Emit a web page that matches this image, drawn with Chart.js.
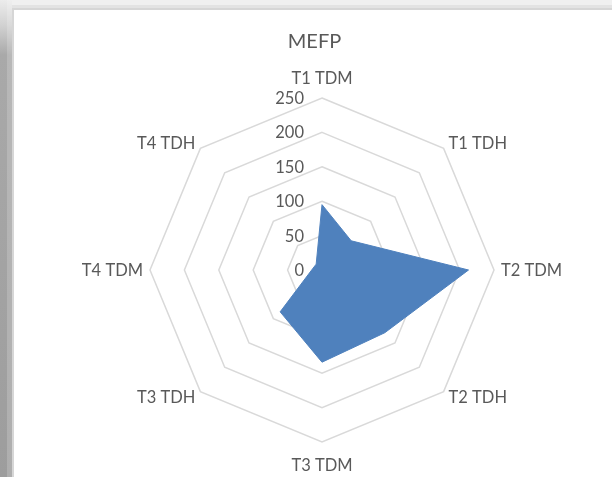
<!DOCTYPE html>
<html>
<head>
<meta charset="utf-8">
<script src="https://cdn.jsdelivr.net/npm/chart.js@4.4.1/dist/chart.umd.min.js"></script>
<style>
  body { margin: 0; width: 612px; height: 477px; background: #f0f0f0; position: relative; overflow: hidden; }
  #barraTopo { position: absolute; left: 0; top: 5px; width: 612px; height: 3px; background: #e3e3e3; }
  #sombraEsq { position: absolute; left: 0; top: 0; width: 12px; height: 477px;
    background: linear-gradient(to bottom, #ececec 0px, #d2d2d2 25px, #a9a9a9 55px, #9d9d9d 100%); }
  #sombraEsq2 { position: absolute; left: 7px; top: 0; width: 5px; height: 477px; background: rgba(255,255,255,0.18); }
  #moldura { position: absolute; left: 12px; top: 8px; width: 600px; height: 469px;
    border-left: 2px solid #d6d6d6; border-top: 2px solid #d6d6d6; background: #fff; }
  #grafico { position: absolute; left: 0; top: 0; }
</style>
</head>
<body>
<div id="barraTopo"></div>
<div id="sombraEsq"></div>
<div id="sombraEsq2"></div>
<div id="moldura">
  <canvas id="grafico" width="598" height="467"></canvas>
</div>
<script>
// dados do gráfico
const titulo = "MEFP";
const categorias = ["T1 TDM", "T1 TDH", "T2 TDM", "T2 TDH", "T3 TDM", "T3 TDH", "T4 TDM", "T4 TDH"];
const valores = [95, 60, 213, 129, 134, 86, 15, 12];
const ticksEixo = [0, 50, 100, 150, 200, 250];

const corTexto = "#595959";
const fonte = "Lato, 'Open Sans', sans-serif";

// rótulos desenhados à mão para ficarem onde o Excel os põe
const rotulosPlugin = {
  id: "rotulos",
  afterDraw(chart) {
    const ctx = chart.ctx;
    const r = chart.scales.r;
    ctx.save();
    ctx.fillStyle = corTexto;

    // título
    ctx.font = "20px " + fonte;
    ctx.textAlign = "center";
    ctx.textBaseline = "middle";
    ctx.fillText(titulo, 300.5, 32);

    // valores do eixo, à esquerda do eixo vertical
    ctx.font = "16.5px " + fonte;
    ctx.textAlign = "right";
    ctx.textBaseline = "alphabetic";
    ticksEixo.forEach(v => {
      const d = r.getDistanceFromCenterForValue(v);
      ctx.fillText(String(v), r.xCenter - 18, r.yCenter - d + 6);
    });

    // rótulos das categorias
    categorias.forEach((lab, i) => {
      const ang = r.getIndexAngle(i); // 0 = topo
      const s = Math.sin(ang), c = Math.cos(ang);
      let gap = 7;
      if (Math.abs(c) > 0.9) gap = c > 0 ? 20 : 23;
      const p = r.getPointPosition(i, r.drawingArea + gap);
      if (Math.abs(s) < 0.1) ctx.textAlign = "center";
      else ctx.textAlign = s > 0 ? "left" : "right";
      ctx.fillText(lab, p.x, p.y + 6);
    });
    ctx.restore();
  }
};

const canvas = document.getElementById("grafico");
const ctx = canvas.getContext("2d");

const chart = new Chart(ctx, {
  type: "radar",
  data: {
    labels: categorias,
    datasets: [{
      label: titulo,
      data: valores,
      backgroundColor: "#4f81bd",
      borderColor: "#4f81bd",
      borderWidth: 1,
      pointRadius: 0,
      fill: true
    }]
  },
  options: {
    responsive: false,
    animation: false,
    layout: { padding: { top: 88, bottom: 35, left: 100, right: 82 } },
    plugins: {
      legend: { display: false },
      title: { display: false },
      tooltip: { enabled: false }
    },
    scales: {
      r: {
        min: 0,
        max: 250,
        ticks: { stepSize: 50, display: false },
        grid: { color: "#d9d9d9", lineWidth: 1.5, circular: false },
        angleLines: { display: false },
        pointLabels: { display: false }
      }
    }
  },
  plugins: [rotulosPlugin]
});
</script>
</body>
</html>
